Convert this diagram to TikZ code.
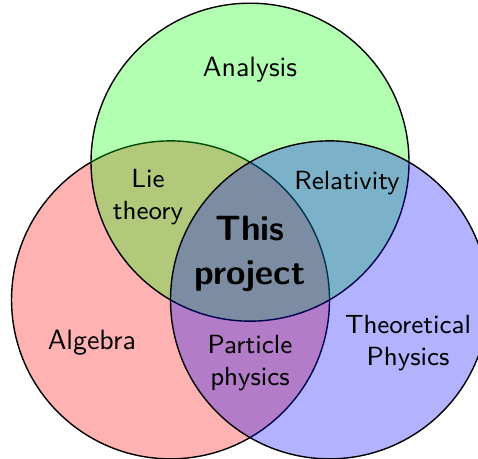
\documentclass[tikz,border=0pt]{standalone}
\usepackage{tikz}
\usetikzlibrary{positioning}

\begin{document}
\begin{tikzpicture}[
    font=\sffamily,
    set/.style={draw=black, line width=0.5pt, fill opacity=0.3, draw opacity=1},
    area/.style={align=center, inner sep=1pt},
    mid/.style={area, font=\sffamily\fontsize{9.4}{11.7}\selectfont},
    core/.style={area, font=\sffamily\fontsize{12.6}{15.8}\selectfont\bfseries}
  ]
  \useasboundingbox (-3.145,-2.579) rectangle (2.868,3.195);

  % the three fields
  \filldraw[set, fill=red]   (210:1.1547) circle (2);
  \filldraw[set, fill=green] (90:1.1547)  circle (2);
  \filldraw[set, fill=blue]  (330:1.1547) circle (2);

  \node[area] (ana) at (0,2.315) {Analysis};
  \node[area] (alg) at (-1.988,-1.12) {Algebra};
  \node[mid] (thp) at (1.988,-1.12) {Theoretical\\Physics};
  \node[mid] (lie) at (-1.283,0.717) {Lie\\theory};
  \node[mid] (rel) at (1.22,0.893) {Relativity};
  \node[mid] (par) at (0,-1.371) {Particle\\physics};
  \node[core] (prj) at (0,0.0) {This\\project};
\end{tikzpicture}
\end{document}
